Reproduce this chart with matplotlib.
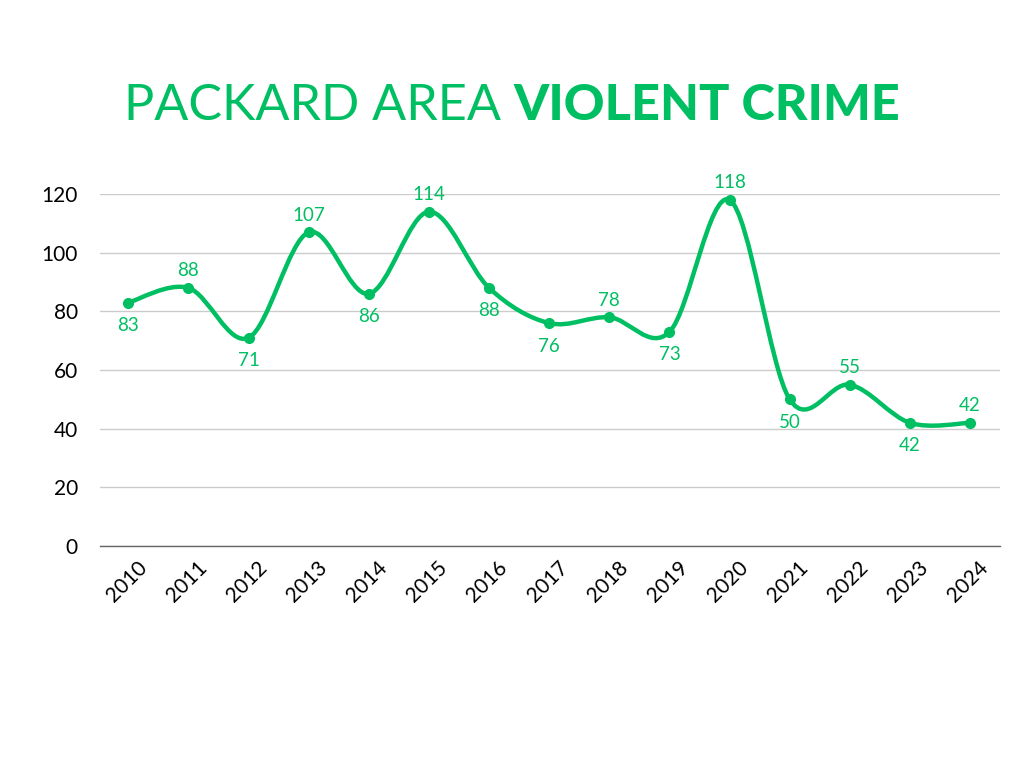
import numpy as np
import matplotlib
matplotlib.use('Agg')
import matplotlib.pyplot as plt
from matplotlib.path import Path
from matplotlib.patches import PathPatch
from matplotlib.transforms import ScaledTranslation

# data
years = ['2010', '2011', '2012', '2013', '2014', '2015', '2016', '2017',
         '2018', '2019', '2020', '2021', '2022', '2023', '2024']
crimes = [83, 88, 71, 107, 86, 114, 88, 76, 78, 73, 118, 50, 55, 42, 42]
# label above (1) or below (-1) the point
label_side = [-1, 1, -1, 1, -1, 1, -1, -1, 1, -1, 1, -1, 1, -1, 1]

GREEN = '#00BF63'
plt.rcParams['font.family'] = ['Lato', 'DejaVu Sans']

fig = plt.figure(figsize=(10.24, 7.68), dpi=100)
ax = fig.add_axes([0.0977, 0.289, 0.879, 0.4583])

x = np.arange(len(years))
y = np.array(crimes, dtype=float)

# smooth line through the points (catmull-rom as cubic bezier)
verts = [(x[0], y[0])]
codes = [Path.MOVETO]
n = len(x)
for i in range(n - 1):
    p0 = np.array([x[max(i - 1, 0)], y[max(i - 1, 0)]])
    p1 = np.array([x[i], y[i]])
    p2 = np.array([x[i + 1], y[i + 1]])
    p3 = np.array([x[min(i + 2, n - 1)], y[min(i + 2, n - 1)]])
    c1 = p1 + (p2 - p0) / 6
    c2 = p2 - (p3 - p1) / 6
    verts += [tuple(c1), tuple(c2), tuple(p2)]
    codes += [Path.CURVE4] * 3
ax.add_patch(PathPatch(Path(verts, codes), fill=False, edgecolor=GREEN,
                       lw=3.2, capstyle='round', joinstyle='round', zorder=3))
ax.plot(x, y, 'o', color=GREEN, markersize=7, zorder=4, clip_on=False)

for xi, yi, s in zip(x, crimes, label_side):
    ax.annotate(str(yi), (xi, yi), xytext=(0, 12.3 if s > 0 else -16.5),
                textcoords='offset points', ha='center', va='center',
                fontsize=13.5, color=GREEN)

ax.set_xlim(-0.47, 14.5)
ax.set_ylim(0, 120)
ax.set_yticks([0, 20, 40, 60, 80, 100, 120])
ax.set_xticks(x)
ax.set_xticklabels(years, rotation=45, ha='right', rotation_mode='anchor')
ax.tick_params(axis='both', length=0, labelsize=15, colors='black')
ax.tick_params(axis='y', pad=16)
ax.tick_params(axis='x', pad=8)
shift = ScaledTranslation(6 / 72, 0, fig.dpi_scale_trans)
for lbl in ax.get_xticklabels():
    lbl.set_transform(lbl.get_transform() + shift)
ax.yaxis.grid(True, color='#cccccc', lw=1)
ax.set_axisbelow(True)
for s in ['top', 'right', 'left']:
    ax.spines[s].set_visible(False)
ax.spines['bottom'].set_color('#666666')
ax.spines['bottom'].set_linewidth(1)

# title in two weights
t1 = fig.text(0.121, 0.862, 'PACKARD AREA ', fontsize=36.3, color=GREEN,
              fontweight='normal', va='center', ha='left')
fig.canvas.draw()
bb = t1.get_window_extent()
fig.text(bb.x1 / fig.bbox.width, 0.862, 'VIOLENT CRIME', fontsize=36.3,
         color=GREEN, fontweight='black', va='center', ha='left')

fig.savefig('out.png', dpi=100)
